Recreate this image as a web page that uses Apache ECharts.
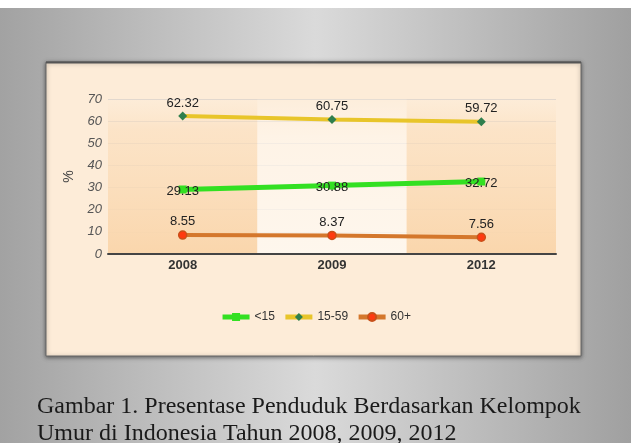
<!DOCTYPE html>
<html>
<head>
<meta charset="utf-8">
<script src="https://cdn.jsdelivr.net/npm/echarts@6/dist/echarts.min.js"></script>
<style>
  html, body { margin: 0; padding: 0; }
  #chart { width: 631px; height: 443px; }
</style>
</head>
<body>
<div id="chart"></div>
<script>
// data
const years = ['2008', '2009', '2012'];
const anak = [29.13, 30.88, 32.72];      // <15
const produktif = [62.32, 60.75, 59.72]; // 15-59
const lansia = [8.55, 8.37, 7.56];       // 60+
const seriesNames = ['<15', '15-59', '60+'];
const caption = 'Gambar 1. Presentase Penduduk Berdasarkan Kelompok\nUmur di Indonesia Tahun 2008, 2009, 2012';

const chart = echarts.init(document.getElementById('chart'));

const darkBand = {
  type: 'linear', x: 0, y: 0, x2: 0, y2: 1,
  colorStops: [
    { offset: 0, color: 'rgba(251,226,196,0)' },
    { offset: 0.2, color: 'rgba(251,222,188,0.6)' },
    { offset: 1, color: 'rgba(250,214,172,1)' }
  ]
};
const lightBand = {
  type: 'linear', x: 0, y: 0, x2: 0, y2: 1,
  colorStops: [
    { offset: 0, color: 'rgba(255,248,240,0.15)' },
    { offset: 0.25, color: 'rgba(255,248,240,0.6)' },
    { offset: 1, color: 'rgba(255,250,244,0.75)' }
  ]
};

const label = {
  show: true,
  position: 'top',
  distance: 2,
  color: '#222',
  fontSize: 13,
  fontFamily: 'Liberation Sans'
};

const option = {
  animation: false,
  title: {
    text: caption,
    left: 32,
    top: 388,
    textStyle: {
      fontFamily: 'Liberation Serif',
      fontWeight: 'normal',
      fontSize: 24,
      lineHeight: 27,
      color: '#1a1a1a'
    }
  },
  graphic: [
    {
      type: 'rect', z: -10, silent: true,
      shape: { x: 0, y: 8, width: 631, height: 435 },
      style: {
        fill: {
          type: 'linear', x: 0, y: 0, x2: 1, y2: 0,
          colorStops: [
            { offset: 0, color: '#a2a2a2' },
            { offset: 0.5, color: '#dadada' },
            { offset: 1, color: '#a0a0a0' }
          ]
        }
      }
    },
    {
      type: 'rect', z: -9, silent: true,
      shape: { x: 46, y: 62, width: 535, height: 294 },
      style: {
        fill: '#fdecd8',
        stroke: '#666', lineWidth: 1,
        shadowColor: 'rgba(0,0,0,0.5)', shadowBlur: 4, shadowOffsetY: 1
      }
    },
    {
      type: 'line', z: -8, silent: true,
      shape: { x1: 46, y1: 62.5, x2: 581, y2: 62.5 },
      style: { stroke: '#555', lineWidth: 2 }
    }
  ],
  legend: {
    top: 306,
    left: 'center',
    itemWidth: 27,
    itemHeight: 10,
    itemGap: 8,
    lineStyle: { width: 5 },
    textStyle: { fontFamily: 'Liberation Sans', fontSize: 12, color: '#333' },
    data: seriesNames
  },
  grid: { left: 108, right: 75, top: 99, bottom: 189, containLabel: false },
  xAxis: {
    type: 'category',
    data: years,
    boundaryGap: true,
    axisLine: { lineStyle: { color: '#444', width: 2 } },
    axisTick: { show: false },
    axisLabel: {
      color: '#333', fontSize: 13, fontWeight: 'bold',
      fontFamily: 'Liberation Sans', margin: 5
    },
    splitArea: { show: true, areaStyle: { color: [darkBand, lightBand] } }
  },
  yAxis: {
    type: 'value',
    min: 0, max: 70, interval: 10,
    name: '%',
    nameLocation: 'middle',
    nameRotate: 90,
    nameGap: 28,
    nameTextStyle: { fontFamily: 'Liberation Sans', fontSize: 14, color: '#444' },
    axisLine: { show: false },
    axisTick: { show: false },
    axisLabel: {
      color: '#555', fontSize: 13, fontStyle: 'italic',
      fontFamily: 'Liberation Sans', margin: 6
    },
    splitLine: { lineStyle: { color: '#e2d8ce', width: 1 } }
  },
  series: [
    {
      name: seriesNames[0], type: 'line', data: anak,
      symbol: 'rect', symbolSize: 8,
      itemStyle: { color: '#33e022' },
      lineStyle: { color: '#33e022', width: 5 },
      label: Object.assign({}, label, { position: 'inside', offset: [0, 2] }),
      z: 4
    },
    {
      name: seriesNames[1], type: 'line', data: produktif,
      symbol: 'diamond', symbolSize: 9,
      itemStyle: { color: '#2f7f4d' },
      lineStyle: { color: '#e8c52a', width: 4 },
      label: label,
      z: 3
    },
    {
      name: seriesNames[2], type: 'line', data: lansia,
      symbol: 'circle', symbolSize: 8,
      itemStyle: { color: '#ff3a10', borderColor: '#c8501a', borderWidth: 1.5 },
      lineStyle: { color: '#d4772c', width: 4 },
      label: label,
      z: 3
    }
  ]
};

chart.setOption(option);
</script>
</body>
</html>
